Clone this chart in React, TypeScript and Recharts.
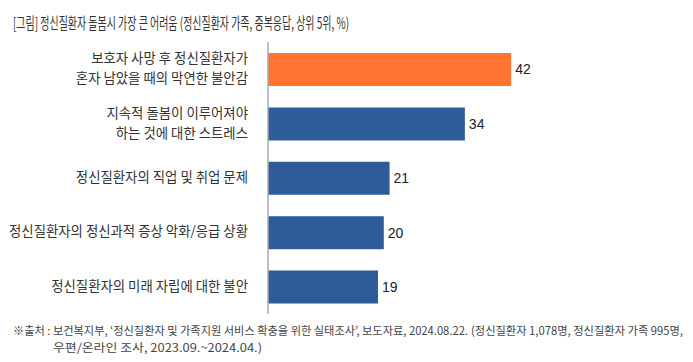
import React from "react";
import { BarChart, Bar, XAxis, YAxis, Cell, LabelList } from "recharts";

const categories: string[] = [
  "보호자 사망 후 정신질환자가\n혼자 남았을 때의 막연한 불안감",
  "지속적 돌봄이 이루어져야\n하는 것에 대한 스트레스",
  "정신질환자의 직업 및 취업 문제",
  "정신질환자의 정신과적 증상 악화/응급 상황",
  "정신질환자의 미래 자립에 대한 불안",
];
const values: number[] = [42, 34, 21, 20, 19];
const highlight: boolean[] = [true, false, false, false, false];

const title = "[그림] 정신질환자 돌봄시 가장 큰 어려움 (정신질환자 가족, 중복응답, 상위 5위, %)";
const sourceParts: string[] = [
  "※출처 : 보건복지부, ‘정신질환자 및 가족지원 서비스 확충을 위한 실태조사’, 보도자료, 2024.08.22.",
  "(정신질환자 1,078명, 정신질환자 가족 995명,",
  "우편/온라인 조사, 2023.09.~2024.04.)",
];

const data = categories.map((name, i) => ({ name, value: values[i], hl: highlight[i] }));

const FONT = "'Noto Sans CJK KR', 'Noto Sans', sans-serif";
const NUMFONT = "'Liberation Sans', Arial, sans-serif";
const ORANGE = "#FF7430";
const BLUE = "#2E5B99";

const CategoryTick = (props: any) => {
  const { y, payload } = props;
  const lines: string[] = String(payload.value).split("\n");
  const lh = 20;
  const start = y - ((lines.length - 1) * lh) / 2 - 2;
  return (
    <g>
      {lines.map((ln, i) => (
        <text
          key={i}
          x={248}
          y={start + i * lh}
          textAnchor="end"
          dominantBaseline="central"
          fontSize={13.4}
          fill="#333"
          fontFamily={FONT}
        >
          {ln}
        </text>
      ))}
    </g>
  );
};

export default function App() {
  return (
    <div style={{ position: "absolute", left: 0, top: 0, width: 693, height: 362, background: "#fff" }}>
      <BarChart
        width={693}
        height={362}
        data={data}
        layout="vertical"
        margin={{ top: 42, right: 135.5, bottom: 48, left: 0 }}
        barSize={33}
      >
        <XAxis type="number" domain={[0, 50]} hide />
        <YAxis
          type="category"
          dataKey="name"
          width={268}
          axisLine={{ stroke: "#AAAAAA", strokeWidth: 1.5 }}
          tickLine={false}
          tick={<CategoryTick />}
          interval={0}
        />
        <Bar dataKey="value" isAnimationActive={false}>
          {data.map((d, i) => (
            <Cell key={i} fill={d.hl ? ORANGE : BLUE} />
          ))}
          <LabelList
            dataKey="value"
            position="right"
            offset={4}
            fill="#222"
            fontSize={14}
            fontFamily={NUMFONT}
          />
        </Bar>
      </BarChart>
      <svg
        width={693}
        height={362}
        style={{ position: "absolute", left: 0, top: 0, pointerEvents: "none" }}
      >
        <text
          x={13}
          y={22}
          dominantBaseline="central"
          fontSize={15.5}
          fill="#333"
          fontFamily={FONT}
          textLength={336}
          lengthAdjust="spacingAndGlyphs"
        >
          {title}
        </text>
        <text
          x={13}
          y={330}
          dominantBaseline="central"
          fontSize={11.5}
          fill="#444"
          fontFamily={FONT}
          textLength={455}
          lengthAdjust="spacingAndGlyphs"
        >
          {sourceParts[0]}
        </text>
        <text
          x={471}
          y={330}
          dominantBaseline="central"
          fontSize={11.5}
          fill="#444"
          fontFamily={FONT}
          textLength={212}
          lengthAdjust="spacingAndGlyphs"
        >
          {sourceParts[1]}
        </text>
        <text
          x={53}
          y={347}
          dominantBaseline="central"
          fontSize={11.5}
          fill="#444"
          fontFamily={FONT}
          textLength={209}
          lengthAdjust="spacingAndGlyphs"
        >
          {sourceParts[2]}
        </text>
      </svg>
    </div>
  );
}
